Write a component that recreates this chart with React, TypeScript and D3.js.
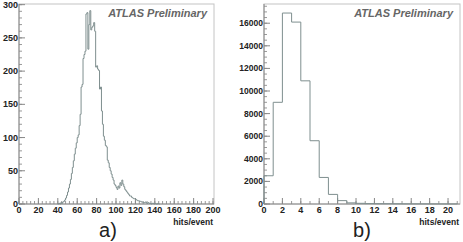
import React from 'react';
import * as d3 from 'd3';

// panel a) : hits/event, 1-unit bins starting at 40
const hitsStartA = 40;
const countsA = [
  0, 1, 0, 2, 1, 3, 4, 6, 9, 13,
  18, 24, 30, 37, 46, 55, 65, 75, 84, 92,
  100, 104, 118, 135, 176, 180, 219, 225, 230, 286,
  288, 233, 270, 291, 262, 266, 268, 273, 260, 206,
  208, 203, 201, 173, 176, 140, 120, 102, 96, 88,
  86, 66, 62, 55, 50, 45, 40, 36, 30, 28,
  25, 22, 27, 24, 32, 28, 36, 30, 26, 22,
  20, 18, 16, 14, 12, 12, 10, 9, 8, 8,
  7, 6, 5, 5, 4, 4, 3, 3, 2, 2,
  3, 2, 1, 2, 1, 1, 0, 1, 1, 0,
  1, 0, 0, 1, 0,
];
const yTicksA = [0, 50, 100, 150, 200, 250, 300];
const xTicksA = [0, 20, 40, 60, 80, 100, 120, 140, 160, 180, 200];

// panel b) : hits/event, 1-unit bins from 0
const countsB = [
  2500, 9000, 16900, 16100, 10900, 5600, 2350, 850, 300, 100,
  60, 40, 30, 25, 20, 15, 12, 10, 8, 6, 5,
];
const yTicksB = [0, 2000, 4000, 6000, 8000, 10000, 12000, 14000, 16000];
const xTicksB = [0, 2, 4, 6, 8, 10, 12, 14, 16, 18, 20];

const lineColor = '#7f8f8f';
const font = 'Liberation Sans, Arial, sans-serif';

interface PanelProps {
  left: number;
  right: number;
  xDomain: [number, number];
  yDomain: [number, number];
  xTicks: number[];
  xMinorStep: number;
  yTicks: number[];
  yMinorStep: number;
  yFont: number;
  start: number;
  counts: number[];
  tag: string;
  tagX: number;
}

const top = 4;
const bottom = 204;

const Panel: React.FC<PanelProps> = (p) => {
  const x = d3.scaleLinear().domain(p.xDomain).range([p.left, p.right]);
  const y = d3.scaleLinear().domain(p.yDomain).range([bottom, top]);

  // step outline of the histogram
  const pts: [number, number][] = [[p.start, 0]];
  p.counts.forEach((c, i) => pts.push([p.start + i, c]));
  pts.push([p.start + p.counts.length, 0]);
  const line = d3.line<[number, number]>()
    .x(d => x(d[0]))
    .y(d => y(d[1]))
    .curve(d3.curveStepAfter);

  const xMinor = d3.range(p.xDomain[0], p.xDomain[1] + 1e-9, p.xMinorStep);
  const yMinor = d3.range(p.yDomain[0], p.yDomain[1], p.yMinorStep);

  return (
    <g>
      <rect x={p.left} y={top} width={p.right - p.left} height={bottom - top}
        fill="none" stroke="#c4c4c4" strokeWidth={1} />
      {xMinor.map(v => (
        <line key={'xm' + v} x1={x(v)} x2={x(v)} y1={bottom} y2={bottom - 3} stroke="#999" />
      ))}
      {p.xTicks.map(v => (
        <line key={'xt' + v} x1={x(v)} x2={x(v)} y1={bottom} y2={bottom - 6} stroke="#888" />
      ))}
      {yMinor.map(v => (
        <line key={'ym' + v} x1={p.left} x2={p.left + 3} y1={y(v)} y2={y(v)} stroke="#999" />
      ))}
      {p.yTicks.map(v => (
        <line key={'yt' + v} x1={p.left} x2={p.left + 6} y1={y(v)} y2={y(v)} stroke="#888" />
      ))}
      <line x1={p.left} x2={p.left} y1={top} y2={bottom} stroke="#888" />
      <line x1={p.left} x2={p.right} y1={bottom} y2={bottom} stroke="#888" />
      <path d={line(pts) ?? ''} fill="none" stroke={lineColor} strokeWidth={1} />
      {p.yTicks.map(v => (
        <text key={'yl' + v} x={p.left - 1} y={y(v) + 3} textAnchor="end"
          fontSize={p.yFont} fontWeight="bold" fill="#222">{v}</text>
      ))}
      {p.xTicks.map(v => (
        <text key={'xl' + v} x={x(v)} y={bottom + 9} textAnchor="middle"
          fontSize={9} fontWeight="bold" fill="#222">{v}</text>
      ))}
      <text x={p.right - 1} y={bottom + 21} textAnchor="end" fontSize={8.5}
        fontWeight="bold" fill="#222">hits/event</text>
      <text x={p.right - 7} y={17} textAnchor="end" fontSize={11}
        fontWeight="bold" fontStyle="italic" fill="#666">ATLAS Preliminary</text>
      <text x={p.tagX} y={237} textAnchor="middle" fontSize={20} fill="#222">{p.tag}</text>
    </g>
  );
};

export default function App() {
  return (
    <svg width={463} height={242} style={{ position: 'absolute', left: 0, top: 0, fontFamily: font }}>
      <rect width={463} height={242} fill="#fff" />
      <Panel left={19} right={214} xDomain={[0, 201]} yDomain={[0, 301]}
        xTicks={xTicksA} xMinorStep={4} yTicks={yTicksA} yMinorStep={10} yFont={9}
        start={hitsStartA} counts={countsA} tag="a)" tagX={108} />
      <Panel left={264} right={460} xDomain={[0, 21.3]} yDomain={[0, 17700]}
        xTicks={xTicksB} xMinorStep={1} yTicks={yTicksB} yMinorStep={500} yFont={8.5}
        start={0} counts={countsB} tag="b)" tagX={362} />
    </svg>
  );
}
